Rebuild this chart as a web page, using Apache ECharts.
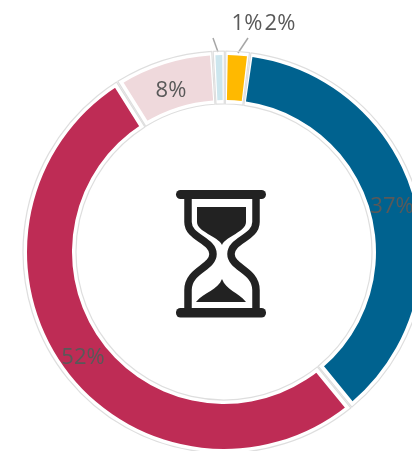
<!DOCTYPE html>
<html>
<head>
<meta charset="utf-8">
<style>
html, body { margin: 0; padding: 0; background: #fff; }
#chart { width: 412px; height: 451px; }
</style>
<script src="https://cdn.jsdelivr.net/npm/echarts@6/dist/echarts.min.js"></script>
</head>
<body>
<div id="chart"></div>
<script>
// data
var names = ['a', 'b', 'c', 'd', 'e'];
var values = [37, 52, 8, 1, 2];
var colors = ['#00628f', '#be2c55', '#efd9dc', '#cde6ee', '#ffb900'];

var cx = 224, cy = 252;
var startAngle = 82.5;
var chart = echarts.init(document.getElementById('chart'));

// hourglass icon parts
echarts.graphic.registerShape('glassFrame', echarts.graphic.extendPath('M188 197V222C188 238 213 240 213 254C213 268 188 270 188 290V310M256 197V222C256 238 231 240 231 254C231 268 256 270 256 290V310'));
echarts.graphic.registerShape('glassTop', echarts.graphic.extendPath('M197 207H246V222C246 232 226 236 222 245C218 236 197 232 197 222Z'));
echarts.graphic.registerShape('glassBottom', echarts.graphic.extendPath('M222 279C226 290 238 292 246 302H196C204 292 218 290 222 279Z'));

// front pie: the coloured sectors and labels
var frontData = values.map(function (v, i) {
    return { name: names[i], value: v, itemStyle: { color: colors[i] } };
});

// white strokes that widen the gaps at both ends of the big red sector
var gapData = values.map(function (v, i) {
    return {
        name: names[i],
        value: v,
        itemStyle: { color: 'transparent', borderColor: i === 1 ? '#fff' : 'transparent', borderWidth: i === 1 ? 10 : 0 }
    };
});

// thin grey outline round every sector
var outlineData = values.map(function (v, i) {
    return { name: names[i], value: v };
});

// label centres as seen in the picture
var labelSpots = [
    { x: 392, y: 207 },
    { x: 83, y: 358 },
    { x: 171, y: 91 },
    { x: 247, y: 24 },
    { x: 280, y: 24 }
];

var option = {
    animation: false,
    series: [
        {
            type: 'pie',
            center: [cx, cy],
            radius: [152, 197],
            startAngle: startAngle,
            padAngle: 1.6,
            label: {
                position: 'inside',
                formatter: '{c}%',
                fontFamily: 'Open Sans',
                fontSize: 22,
                color: '#595959'
            },
            labelLine: { show: false },
            labelLayout: function (p) {
                var s = labelSpots[p.dataIndex];
                return { x: s.x, y: s.y, align: 'center', verticalAlign: 'middle' };
            },
            data: frontData
        },
        {
            type: 'pie',
            silent: true,
            center: [cx, cy],
            radius: [146, 203],
            startAngle: startAngle,
            label: { show: false },
            labelLine: { show: false },
            data: gapData
        },
        {
            type: 'pie',
            silent: true,
            center: [cx, cy],
            radius: [148, 201],
            startAngle: startAngle,
            padAngle: 0.4,
            label: { show: false },
            labelLine: { show: false },
            itemStyle: { color: 'transparent', borderColor: '#dedede', borderWidth: 1.2 },
            data: outlineData
        }
    ],
    graphic: [
        // leader lines of the 1% and 2% labels
        { type: 'line', shape: { x1: 218, y1: 52, x2: 213, y2: 38 }, style: { stroke: '#a6a6a6', lineWidth: 1.5 } },
        { type: 'line', shape: { x1: 238, y1: 53, x2: 248, y2: 38 }, style: { stroke: '#a6a6a6', lineWidth: 1.5 } },
        { type: 'rect', shape: { x: 176, y: 190, width: 90, height: 9, r: 4.5 }, style: { fill: '#222' } },
        { type: 'rect', shape: { x: 176, y: 308, width: 90, height: 9.5, r: 4.5 }, style: { fill: '#222' } },
        { type: 'glassFrame', style: { fill: 'none', stroke: '#222', lineWidth: 7.5 } },
        { type: 'glassTop', style: { fill: '#222' } },
        { type: 'glassBottom', style: { fill: '#222' } }
    ]
};

chart.setOption(option);
</script>
</body>
</html>
